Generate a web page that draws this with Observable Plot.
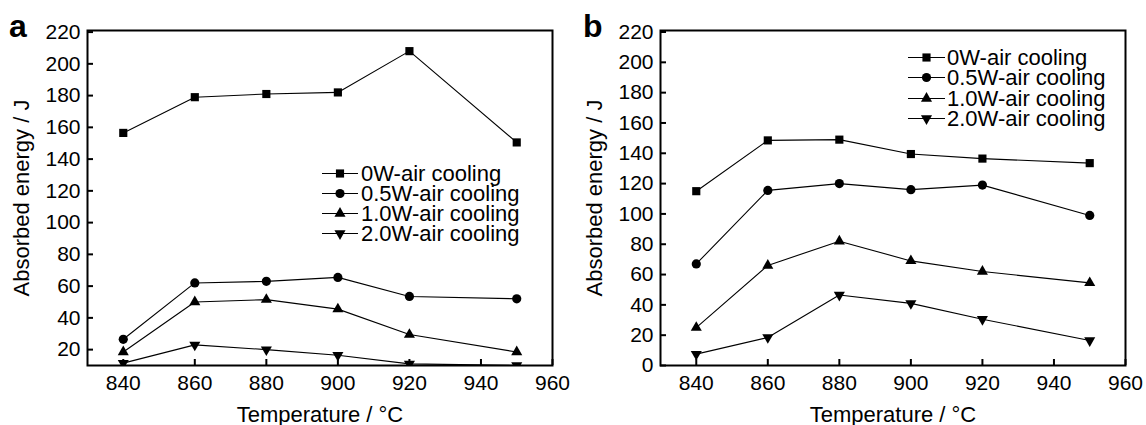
<!DOCTYPE html>
<html><head><meta charset="utf-8">
<script src="https://cdn.jsdelivr.net/npm/d3@7"></script>
<script src="https://cdn.jsdelivr.net/npm/@observablehq/plot@0.6"></script>
<style>
body{margin:0;background:#fff;font-family:"Liberation Sans",Arial,sans-serif;color:#000;}
#wrap{display:flex;width:1146px;height:425px;}
.panel{position:relative;width:573px;height:425px;}
.letter{position:absolute;font-weight:bold;font-size:32px;line-height:32px;}
.legend{position:absolute;font-size:22px;}
.legend .row{display:flex;align-items:center;white-space:nowrap;}
.legend .row span{display:inline-block;height:19px;line-height:19px;overflow:visible;}
.legend svg{display:block;}
</style></head><body><div id="wrap"></div>
<script>
const temperatures = [840, 860, 880, 900, 920, 950];
const seriesNames = ["0W-air cooling", "0.5W-air cooling", "1.0W-air cooling", "2.0W-air cooling"];
const xTicks = [840, 860, 880, 900, 920, 940, 960];
const yTicksA = [20, 40, 60, 80, 100, 120, 140, 160, 180, 200, 220];
const yTicksB = [0, 20, 40, 60, 80, 100, 120, 140, 160, 180, 200, 220];

// panel a
const a0W  = [156.5, 179, 181, 182, 208, 150.5];
const a05W = [26.5, 62, 63, 65.5, 53.5, 52];
const a10W = [18.5, 50, 51.5, 45.5, 29.5, 18.5];
const a20W = [11.5, 23, 20, 16.5, 11, 10];
// panel b
const b0W  = [115, 148.5, 149, 139.5, 136.5, 133.5];
const b05W = [67, 115.5, 120, 116, 119, 99];
const b10W = [25, 66, 82, 69, 62, 54.5];
const b20W = [7.5, 18.5, 46.5, 41, 30.5, 16.5];

const squareSym = {draw: (c, s) => d3.symbolSquare.draw(c, s)};
const triangleUp = {draw: (c, s) => d3.symbolTriangle.draw(c, s * 0.8)};
const triangleDown = {draw(c, s) {
  s = s * 0.8;
  const y = -Math.sqrt(s / (3 * Math.sqrt(3)));
  c.moveTo(0, -2 * y);
  c.lineTo(-Math.sqrt(3) * y, y);
  c.lineTo(Math.sqrt(3) * y, y);
  c.closePath();
}};
const shapes = [squareSym, d3.symbolCircle, triangleUp, triangleDown];

function rows(series) {
  return series.map((vals, i) => temperatures.map((t, j) => ({t, v: vals[j], s: seriesNames[i]})));
}

function makePanel(series, yDomain, yTicks) {
  const data = rows(series);
  const marks = [
    Plot.axisX({ticks: xTicks, tickSize: -6, fill: "none", strokeWidth: 2, label: null}),
    Plot.axisX({ticks: xTicks, tickSize: 0, stroke: "none", tickPadding: 10, fontSize: 21, label: null}),
    Plot.axisX({ticks: [], tickSize: 0, stroke: "none", fontSize: 22,
      label: "Temperature / °C", labelAnchor: "center", labelArrow: "none", labelOffset: 56}),
    Plot.axisY({ticks: yTicks, tickSize: -6, fill: "none", strokeWidth: 2, label: null}),
    Plot.axisY({ticks: yTicks, tickSize: 0, stroke: "none", tickPadding: 7, fontSize: 21, label: null}),
    Plot.axisY({ticks: [], tickSize: 0, stroke: "none", fontSize: 22,
      label: "Absorbed energy / J", labelAnchor: "center", labelArrow: "none", labelOffset: 74})
  ];
  data.forEach((d, i) => {
    marks.push(Plot.line(d, {x: "t", y: "v", stroke: "black", strokeWidth: 1.1, clip: true}));
    marks.push(Plot.dot(d, {x: "t", y: "v", symbol: shapes[i], r: 4.6, fill: "black", stroke: "none", clip: true}));
  });
  marks.push(Plot.frame({stroke: "black", strokeWidth: 2}));
  return Plot.plot({
    width: 573, height: 425,
    marginLeft: 87, marginRight: 21, marginTop: 30, marginBottom: 60,
    style: {fontFamily: '"Liberation Sans", Arial, sans-serif', fontSize: "21px", color: "black", background: "white", overflow: "visible"},
    x: {domain: [830, 960]},
    y: {domain: yDomain},
    marks
  });
}

function makeLegend(left, top, lineW, gap, rowH) {
  const lg = document.createElement("div");
  lg.className = "legend";
  lg.style.left = left + "px";
  lg.style.top = top + "px";
  seriesNames.forEach((name, i) => {
    const row = document.createElement("div");
    row.className = "row";
    row.style.height = rowH + "px";
    const svg = d3.create("svg").attr("width", lineW).attr("height", 19).style("margin-right", gap + "px");
    svg.append("line").attr("x1", 0).attr("x2", lineW).attr("y1", 9.5).attr("y2", 9.5).attr("stroke", "black").attr("stroke-width", 1);
    svg.append("path").attr("transform", `translate(${lineW / 2},9.5)`).attr("d", d3.symbol(shapes[i], 4.6 * 4.6 * Math.PI)()).attr("fill", "black");
    row.appendChild(svg.node());
    const span = document.createElement("span");
    span.textContent = name;
    row.appendChild(span);
    lg.appendChild(row);
  });
  return lg;
}

const wrap = document.getElementById("wrap");
const configs = [
  {letter: "a", series: [a0W, a05W, a10W, a20W], yDomain: [10, 221], yTicks: yTicksA, lx: 9,
   leg: [322, 163, 36, 3, 20]},
  {letter: "b", series: [b0W, b05W, b10W, b20W], yDomain: [0, 221], yTicks: yTicksB, lx: 10,
   leg: [335, 47, 37, 2, 20.5]}
];
configs.forEach(cfg => {
  const p = document.createElement("div");
  p.className = "panel";
  p.appendChild(makePanel(cfg.series, cfg.yDomain, cfg.yTicks));
  const L = document.createElement("div");
  L.className = "letter";
  L.textContent = cfg.letter;
  L.style.left = cfg.lx + "px";
  L.style.top = "10px";
  p.appendChild(L);
  p.appendChild(makeLegend(...cfg.leg));
  wrap.appendChild(p);
});
</script></body></html>
